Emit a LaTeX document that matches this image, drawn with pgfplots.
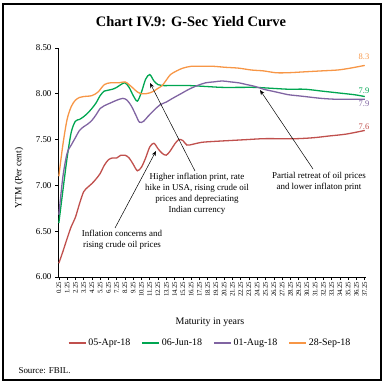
\documentclass[border=0pt]{standalone}
\usepackage{fontspec}
\setmainfont{Liberation Serif}
\usepackage{pgfplots}
\pgfplotsset{compat=1.18}
\usetikzlibrary{arrows.meta}
\definecolor{cred}{HTML}{C0504D}
\definecolor{cgreen}{HTML}{00A651}
\definecolor{cpurple}{HTML}{8064A2}
\definecolor{corange}{HTML}{F79646}
\begin{document}
\begin{tikzpicture}[x=1bp,y=1bp]
\useasboundingbox (0,0) rectangle (385,385);
\draw[line width=1.2bp] (3,5) rectangle (381,381);
\begin{axis}[
  at={(58bp,108bp)}, anchor=south west, scale only axis,
  width=308bp, height=229bp,
  xmin=0.15, xmax=37.4, ymin=6, ymax=8.5,
  axis x line*=bottom, axis y line*=left,
  axis line style={line width=0.8bp, black},
  xtick={0.25,1.25,...,37.25},
  xticklabel={\pgfmathprintnumber[fixed,fixed zerofill,precision=2]{\tick}},
  ytick={6,6.5,7,7.5,8,8.5},
  yticklabel={\pgfmathprintnumber[fixed,fixed zerofill,precision=2]{\tick}},
  /pgf/number format/assume math mode=true,
  x tick label style={rotate=90, anchor=east, font=\fontsize{6.8}{7}\selectfont, inner sep=1.5bp},
  y tick label style={font=\fontsize{9}{10}\selectfont},
  tick align=outside, major tick length=3bp,
  tick style={black, line width=0.6bp},
  legend columns=4,
  legend style={at={(0.494,-0.288)}, anchor=center, draw=none, fill=none,
    font=\fontsize{10}{11}\selectfont,
    /tikz/every even column/.append style={column sep=9bp}},
  legend image code/.code={\draw[#1, line width=1.5bp] (0bp,0bp) -- (17bp,0bp);},
  every axis plot/.append style={line width=1.3bp, smooth, mark=none},
]
\addplot[cred] coordinates {
(0.25,6.15) (0.75,6.28) (1.25,6.42) (1.75,6.55) (2.25,6.65) (2.75,6.80) (3.25,6.93)
(3.75,6.98) (4.25,7.02) (4.75,7.07) (5.25,7.13) (5.75,7.22) (6.25,7.28) (6.75,7.30)
(7.25,7.30) (7.75,7.33) (8.25,7.33) (8.75,7.30) (9.25,7.23) (9.75,7.16) (10.25,7.20)
(10.75,7.30) (11.25,7.42) (11.75,7.46) (12.25,7.40) (12.75,7.35) (13.25,7.33) (13.75,7.38)
(14.25,7.45) (14.75,7.50) (15.25,7.49) (15.75,7.44) (16.5,7.45) (17.5,7.47) (19,7.48)
(21,7.49) (23,7.50) (25,7.51) (27,7.51) (29,7.51) (31,7.52) (33,7.54) (35,7.56) (37.25,7.60)
};
\addlegendentry{05-Apr-18}
\addplot[cgreen] coordinates {
(0.25,6.59) (0.75,6.95) (1.25,7.30) (1.75,7.58) (2.25,7.70) (2.75,7.72) (3.25,7.75)
(3.75,7.79) (4.25,7.84) (4.75,7.90) (5.25,7.98) (5.75,8.03) (6.25,8.04) (6.75,8.05)
(7.25,8.07) (7.75,8.10) (8.25,8.12) (8.75,8.07) (9.25,7.98) (9.75,7.92) (10.25,8.02)
(10.75,8.16) (11.25,8.21) (11.75,8.14) (12.25,8.10) (12.75,8.09) (14,8.09) (16,8.09)
(18,8.08) (20,8.07) (22,8.07) (24,8.07) (26,8.06) (28,8.05) (30,8.05) (32,8.03)
(34,8.01) (36,7.99) (37.25,7.97)
};
\addlegendentry{06-Jun-18}
\addplot[cpurple] coordinates {
(0.25,6.68) (0.75,7.10) (1.25,7.35) (1.75,7.44) (2.25,7.52) (2.75,7.60) (3.25,7.64)
(3.75,7.67) (4.25,7.71) (4.75,7.77) (5.25,7.84) (5.75,7.87) (6.5,7.90) (7.25,7.93)
(8.0,7.95) (8.5,7.93) (9.0,7.87) (9.5,7.78) (10.0,7.69) (10.5,7.70) (11.0,7.75)
(11.75,7.82) (12.5,7.88) (13.25,7.91) (14.0,7.95) (15.0,8.00) (16,8.05) (17,8.09)
(18,8.12) (19,8.13) (20,8.14) (21,8.13) (22,8.12) (23,8.10) (24,8.08) (25,8.05)
(26,8.03) (27,8.01) (28,7.99) (29,7.98) (30,7.97) (32,7.95) (34,7.94) (37.25,7.94)
};
\addlegendentry{01-Aug-18}
\addplot[corange] coordinates {
(0.25,7.10) (0.75,7.45) (1.25,7.72) (1.75,7.86) (2.25,7.93) (2.75,7.96) (3.25,7.97)
(4.25,7.98) (5.0,8.02) (5.75,8.10) (6.5,8.12) (7.5,8.12) (8.25,8.13) (8.75,8.10)
(9.25,8.06) (9.75,8.02) (10.25,8.00) (10.75,8.00) (11.25,8.01) (11.75,8.03) (12.25,8.06)
(12.75,8.09) (13.25,8.15) (13.75,8.21) (14.5,8.25) (15.25,8.28) (16.25,8.30) (17.5,8.30)
(19,8.30) (20.25,8.29) (22,8.28) (23.5,8.26) (25,8.25) (26.5,8.23) (28,8.23) (30,8.24)
(32,8.25) (34,8.26) (35.5,8.28) (37.25,8.31)
};
\addlegendentry{28-Sep-18}
\end{axis}
% title and labels
\node[font=\fontsize{14.5}{16}\selectfont\bfseries] at (191,363) {Chart IV.9: G-Sec Yield Curve};
\node[rotate=90, font=\fontsize{9.5}{11}\selectfont] at (19,207) {YTM (Per cent)};
\node[font=\fontsize{10}{11}\selectfont] at (210,63) {Maturity in years};
\node[anchor=west, font=\fontsize{9}{10}\selectfont] at (15,14) {Source: FBIL.};
% end labels
\node[corange, font=\fontsize{8.5}{9}\selectfont] at (364,328) {8.3};
\node[cgreen, font=\fontsize{8.5}{9}\selectfont] at (364,294) {7.9};
\node[cpurple, font=\fontsize{8.5}{9}\selectfont] at (364,281) {7.9};
\node[cred, font=\fontsize{8.5}{9}\selectfont] at (364,258) {7.6};
% annotations
\node[align=center, font=\fontsize{9}{11}\selectfont] at (197,191.5) {Higher inflation print, rate\\hike in USA, rising crude oil\\prices and depreciating\\Indian currency};
\node[align=center, font=\fontsize{9}{11}\selectfont] at (122,145.5) {Inflation concerns and\\rising crude oil prices};
\node[align=center, font=\fontsize{9}{11}\selectfont] at (319,203) {Partial retreat of oil prices\\and lower inflaton print};
\draw[-{Stealth[length=5bp,width=4bp]}, line width=0.5bp] (195,214) -- (150,302);
\draw[-{Stealth[length=5bp,width=4bp]}, line width=0.5bp] (115,157) -- (156,234);
\draw[-{Stealth[length=5bp,width=4bp]}, line width=0.5bp] (313,216) -- (260,295);
\end{tikzpicture}
\end{document}
